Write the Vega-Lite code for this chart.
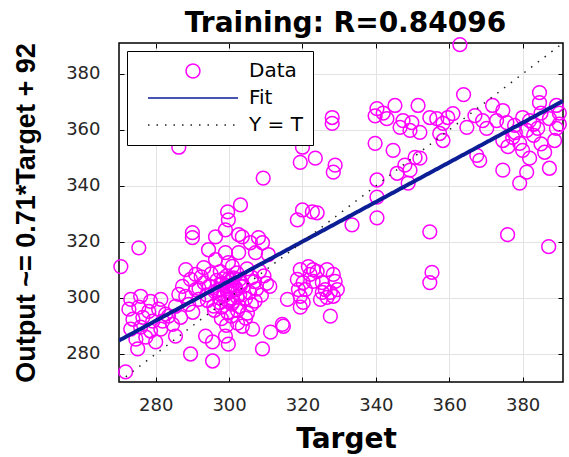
{
  "$schema": "https://vega.github.io/schema/vega-lite/v6.json",
  "width": 444,
  "height": 339,
  "autosize": {"type": "none"},
  "padding": {"left": 119, "top": 43, "right": 6, "bottom": 75},
  "background": "white",
  "config": {
    "view": {"stroke": "#000", "strokeWidth": 1.5},
    "axis": {"labelFont": "DejaVu Sans", "labelFontSize": 18, "labelColor": "#262626", "tickColor": "#000", "tickSize": -5, "tickWidth": 1, "domain": false, "gridColor": "#e3e3e3", "gridWidth": 1, "labelFlush": false, "labelOverlap": false, "minExtent": 0},
    "legend": {"orient": "top-left", "offset": 8, "padding": 10, "symbolOffset": 10, "clipHeight": 20, "rowPadding": 7, "labelFont": "DejaVu Sans", "labelFontSize": 20, "labelColor": "#000", "labelOffset": 10, "strokeColor": "#000", "fillColor": "#fff", "title": null}
  },
  "datasets": {
    "pts": [
      {"t":362.9,"o":390.4},{"t":363.9,"o":372.6},{"t":384.6,"o":373.3},{"t":384.6,"o":369.7},{"t":389.2,"o":368.7},{"t":328.1,"o":364.4},{"t":328.1,"o":362.3},{"t":340.3,"o":367.6},{"t":342,"o":366},{"t":345.2,"o":368.7},{"t":339.8,"o":365},{"t":343,"o":364},{"t":351.5,"o":368.7},{"t":347.4,"o":363.3},{"t":349.8,"o":362.6},{"t":346.6,"o":360.9},{"t":349.3,"o":359.8},{"t":352,"o":359.1},{"t":354.7,"o":364.4},{"t":356.6,"o":364},{"t":358.3,"o":362.3},{"t":361,"o":365.8},{"t":359.6,"o":364.4},{"t":357.4,"o":358.7},{"t":358.3,"o":356.2},{"t":364.8,"o":360.9},{"t":367,"o":365.1},{"t":369.1,"o":363.3},{"t":371.8,"o":368.7},{"t":374.6,"o":366.9},{"t":372.9,"o":363.3},{"t":370.2,"o":360.5},{"t":375.7,"o":362.6},{"t":377.8,"o":361.6},{"t":380,"o":364.4},{"t":381.9,"o":363.3},{"t":381.1,"o":359.8},{"t":384.1,"o":360.5},{"t":387.3,"o":364},{"t":389.2,"o":360.5},{"t":388.7,"o":356.2},{"t":377.3,"o":357.3},{"t":379.2,"o":355.2},{"t":380,"o":352.7},{"t":374.6,"o":356.2},{"t":367.5,"o":350.9},{"t":368.3,"o":349.1},{"t":381.9,"o":349.9},{"t":374.6,"o":345.6},{"t":381.1,"o":344.9},{"t":379.2,"o":341},{"t":387.3,"o":346.3},{"t":339.8,"o":355.2},{"t":344.7,"o":352.7},{"t":350.7,"o":350.2},{"t":352,"o":349.9},{"t":347.9,"o":347.4},{"t":340.3,"o":342.1},{"t":345.8,"o":344.5},{"t":349.3,"o":345.6},{"t":348.8,"o":341},{"t":340.3,"o":336},{"t":383,"o":358},{"t":385,"o":355},{"t":386,"o":352},{"t":378,"o":359},{"t":376,"o":354},{"t":383,"o":362},{"t":390,"o":366},{"t":390,"o":362},{"t":385,"o":366},
      {"t":286.3,"o":353.8},{"t":320,"o":353.8},{"t":319.4,"o":348.4},{"t":323.5,"o":349.9},{"t":328.9,"o":347.4},{"t":328.4,"o":344.9},{"t":309.3,"o":342.8},
      {"t":303.1,"o":333.2},{"t":299.6,"o":330.7},{"t":299.8,"o":327.9},{"t":320,"o":331.4},{"t":322.7,"o":330.7},{"t":318.6,"o":327.9},{"t":324,"o":330.4},{"t":290,"o":323.3},{"t":290,"o":321.5},{"t":299,"o":324.3},{"t":302.6,"o":322.6},{"t":308,"o":321.5},{"t":340.3,"o":328.6},{"t":333.5,"o":326.1},{"t":354.7,"o":323.6},{"t":375.9,"o":322.6},{"t":387.1,"o":318.3},{"t":275.4,"o":317.9},{"t":270.5,"o":311.2},{"t":355.3,"o":309.1},{"t":354.7,"o":305.5},
      {"t":296.3,"o":321.8},{"t":303.6,"o":321.8},{"t":305.8,"o":319.7},{"t":309.1,"o":319.7},{"t":302.6,"o":316.2},{"t":299,"o":316.2},{"t":294.4,"o":317.2},{"t":296.3,"o":313.7},{"t":299.8,"o":312.6},{"t":307.2,"o":316.2},{"t":310.7,"o":315.5},
      {"t":293.1,"o":310.8},{"t":297.6,"o":309.4},{"t":300.9,"o":311.3},{"t":304.9,"o":310.4},{"t":308.3,"o":309.6},
      {"t":292.4,"o":307.5},{"t":295.1,"o":308.6},{"t":299.3,"o":307.8},{"t":302.1,"o":308.9},{"t":306.2,"o":307.3},{"t":309.5,"o":307.9},
      {"t":293.2,"o":305.4},{"t":296.7,"o":306.3},{"t":298.1,"o":305.1},{"t":300.7,"o":306.2},{"t":303.4,"o":305.3},{"t":306.9,"o":305.8},{"t":310.2,"o":305.2},
      {"t":291.8,"o":303.4},{"t":294.6,"o":304.2},{"t":297.4,"o":303.1},{"t":299.1,"o":304.4},{"t":301.8,"o":303.5},{"t":303.9,"o":304.1},{"t":307.5,"o":303.2},{"t":311.1,"o":304.1},
      {"t":293.9,"o":301.1},{"t":296.2,"o":302.2},{"t":298.5,"o":301.3},{"t":300.2,"o":302.1},{"t":302.9,"o":301.2},{"t":305.6,"o":302},{"t":308.8,"o":301},
      {"t":294.1,"o":299.1},{"t":297.4,"o":300},{"t":299.6,"o":299.2},{"t":301.2,"o":298.8},{"t":304.5,"o":299.8},{"t":307.1,"o":298.9},
      {"t":295.8,"o":297.1},{"t":298,"o":296.7},{"t":300.7,"o":297.8},{"t":302.8,"o":296.9},{"t":306.1,"o":297.6},
      {"t":296,"o":295.6},{"t":299.6,"o":294.8},{"t":302.3,"o":295.5},{"t":305,"o":294.6},
      {"t":297.9,"o":292.6},{"t":300.6,"o":293.5},{"t":304.5,"o":292.8},
      {"t":299.3,"o":290.2},{"t":302.3,"o":291},
      {"t":299.5,"o":302.5},{"t":300.8,"o":304.6},{"t":298.7,"o":300.8},{"t":301.9,"o":302.9},{"t":300,"o":306.9},{"t":297.8,"o":304.9},{"t":302.2,"o":300.4},{"t":299.9,"o":298.6},{"t":303,"o":304.2},{"t":296.9,"o":302.7},{"t":301.2,"o":307.2},{"t":298.4,"o":306.8},{"t":300.6,"o":300},{"t":302.8,"o":306.6},{"t":297.5,"o":298.3},
      {"t":295.5,"o":284.3},{"t":293.6,"o":286.4},{"t":299,"o":286.4},{"t":309.1,"o":281.8},{"t":306.4,"o":288.9},{"t":303.6,"o":289.9},{"t":311.3,"o":287.8},{"t":314.5,"o":290.6},{"t":289.5,"o":280},{"t":295.5,"o":277.5},{"t":285.4,"o":286.4},{"t":299.8,"o":283.5},
      {"t":273.2,"o":299.5},{"t":275.9,"o":300.6},{"t":278.6,"o":298.8},{"t":281.4,"o":299.5},{"t":272.7,"o":296},{"t":275.4,"o":296.7},{"t":278.1,"o":295.2},{"t":280.8,"o":296},{"t":282.7,"o":294.2},{"t":273.8,"o":292.4},{"t":276.5,"o":293.1},{"t":279.2,"o":291.7},{"t":281.9,"o":291.7},{"t":273.2,"o":288.9},{"t":275.9,"o":289.6},{"t":278.6,"o":288.2},{"t":281.4,"o":288.9},{"t":274.6,"o":285.3},{"t":277.3,"o":286},{"t":280,"o":284.3},{"t":275.1,"o":281.8},{"t":271.8,"o":273.6},
      {"t":287.3,"o":304.1},{"t":288.2,"o":300.6},{"t":285.4,"o":297},{"t":290.1,"o":294.9},{"t":283.5,"o":293.5},{"t":289.5,"o":306.6},{"t":290.9,"o":303},{"t":286.3,"o":301.3},{"t":289,"o":297.7},{"t":291.7,"o":299.5},{"t":284.6,"o":290.6},{"t":286.8,"o":293.1},{"t":290.9,"o":308.4},{"t":288.2,"o":310.1},
      {"t":319.4,"o":310.1},{"t":321.6,"o":311.2},{"t":324,"o":309.4},{"t":326.7,"o":310.1},{"t":328.4,"o":308.4},{"t":328.9,"o":305.9},{"t":318.6,"o":306.6},{"t":320.2,"o":305.5},{"t":322.9,"o":305.9},{"t":318.9,"o":303},{"t":319.4,"o":300.6},{"t":320.2,"o":298.4},{"t":319.4,"o":296.7},{"t":325.4,"o":305.5},{"t":326.2,"o":303},{"t":325.4,"o":302},{"t":327.6,"o":302},{"t":329.5,"o":303},{"t":326.7,"o":300.2},{"t":327.6,"o":293.5},{"t":315.9,"o":299.5},{"t":314.8,"o":289.9},{"t":322.9,"o":310.1},{"t":324.9,"o":299.5},{"t":328.4,"o":300.6},{"t":320.8,"o":303},{"t":322.1,"o":308.4}
    ],
    "fit": [{"t":270,"o":284.8},{"t":391,"o":370.3}],
    "ident": [{"t":270,"o":270},{"t":391,"o":391}]
  },
  "resolve": {"axis": {"x": "independent", "y": "independent"}},
  "layer": [
    {
      "data": {"name": "pts"},
      "mark": {"type": "point", "filled": false, "opacity": 1, "strokeWidth": 1.5},
      "encoding": {
        "x": {"field": "t", "type": "quantitative", "scale": {"domain": [270, 391], "nice": false, "zero": false},
              "axis": {"values": [280, 300, 320, 340, 360, 380], "grid": true, "title": "Target", "titleFont": "DejaVu Sans", "titleFontSize": 28, "titleFontWeight": "bold", "titleColor": "#000", "titleY": 65, "titleX": 227, "titleBaseline": "alphabetic", "labelPadding": 19}},
        "y": {"field": "o", "type": "quantitative", "scale": {"domain": [270, 391], "nice": false, "zero": false},
              "axis": {"values": [280, 300, 320, 340, 360, 380], "grid": true, "title": "Output ~= 0.71*Target + 92", "titleFont": "Liberation Sans", "titleFontSize": 27, "titleFontWeight": "bold", "titleColor": "#000", "titleX": -85, "titleY": 169.5, "titleBaseline": "alphabetic", "titleAngle": -90, "labelPadding": 24}},
        "color": {"datum": "Data", "type": "nominal",
                  "scale": {"domain": ["Data", "Fit", "Y = T"], "range": ["#ff00ff", "#0b1e96", "#222222"]}},
        "shape": {"datum": "Data", "type": "nominal", "scale": {"domain": ["Data", "Fit", "Y = T"], "range": ["circle", "stroke", "stroke"]}},
        "size": {"datum": "Data", "type": "nominal", "scale": {"type": "ordinal", "domain": ["Data", "Fit", "Y = T"], "range": [190, 8100, 8100]}}
      }
    },
    {
      "data": {"name": "fit"},
      "mark": {"type": "line", "clip": true, "strokeWidth": 4},
      "encoding": {
        "x": {"field": "t", "type": "quantitative",
              "axis": {"orient": "top", "values": [280, 300, 320, 340, 360, 380], "labels": false, "grid": false, "title": "Training: R=0.84096", "titleFont": "DejaVu Sans", "titleFontSize": 28, "titleFontWeight": "bold", "titleColor": "#000", "titleX": 226, "titleY": -12, "titleBaseline": "alphabetic"}},
        "y": {"field": "o", "type": "quantitative",
              "axis": {"orient": "right", "values": [280, 300, 320, 340, 360, 380], "labels": false, "grid": false, "title": null}},
        "color": {"datum": "Fit", "type": "nominal"},
        "strokeDash": {"datum": "Fit", "type": "nominal", "scale": {"domain": ["Data", "Fit", "Y = T"], "range": [[1, 0], [1, 0], [1.5, 7]]}}
      }
    },
    {
      "data": {"name": "ident"},
      "mark": {"type": "line", "clip": true, "strokeWidth": 1.5},
      "encoding": {
        "x": {"field": "t", "type": "quantitative", "axis": null},
        "y": {"field": "o", "type": "quantitative", "axis": null},
        "color": {"datum": "Y = T", "type": "nominal"},
        "strokeDash": {"datum": "Y = T", "type": "nominal"}
      }
    }
  ]
}
